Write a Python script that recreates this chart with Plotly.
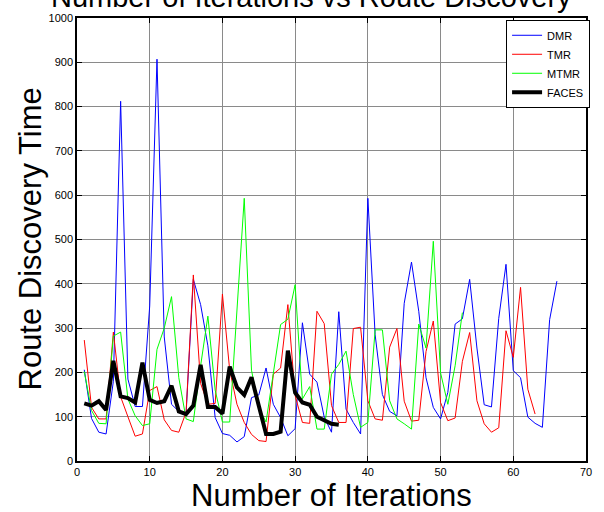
import plotly.graph_objects as go

dmr = [206, 96, 65, 61, 180, 812, 185, 123, 123, 350, 907, 280, 128, 112, 106, 410,
       353, 260, 98, 62, 58, 43, 55, 143, 149, 210, 128, 98, 57, 73, 312, 196, 178,
       99, 65, 337, 117, 87, 61, 593, 285, 150, 112, 102, 356, 449, 338, 188, 121,
       95, 155, 309, 321, 410, 255, 127, 122, 322, 444, 204, 188, 99, 85, 76, 319, 406]
tmr = [273, 121, 95, 95, 291, 145, 100, 56, 61, 159, 168, 93, 69, 65, 110, 420,
       175, 128, 130, 377, 205, 128, 87, 60, 46, 44, 196, 210, 353, 148, 87, 85,
       338, 310, 125, 87, 87, 299, 302, 136, 95, 92, 257, 299, 135, 90, 92, 247,
       316, 132, 91, 97, 225, 290, 136, 84, 65, 75, 294, 234, 392, 162, 106]
mtmr = [202, 114, 85, 84, 282, 291, 140, 102, 80, 84, 252, 300, 371, 188, 95, 89,
        215, 327, 160, 88, 88, 330, 593, 205, 120, 88, 200, 308, 320, 398, 140, 168,
        72, 72, 196, 218, 248, 150, 76, 87, 296, 296, 136, 95, 84, 72, 309, 255,
        496, 199, 128, 215, 335]
faces = [130, 125, 135, 115, 226, 146, 142, 132, 222, 138, 131, 135, 170, 112, 106,
         125, 217, 122, 122, 107, 213, 166, 149, 189, 125, 61, 61, 66, 249, 154, 132,
         127, 100, 93, 84, 82]

series = [("DMR", dmr, "#0000ff", 1), ("TMR", tmr, "#ff0000", 1),
          ("MTMR", mtmr, "#00ff00", 1), ("FACES", faces, "#000000", 4)]

x_ticks = list(range(0, 71, 10))
y_ticks = list(range(0, 1001, 100))

fig = go.Figure()
for name, vals, color, w in series:
    fig.add_trace(go.Scatter(x=list(range(1, len(vals) + 1)), y=vals, mode="lines",
                             name=name, line=dict(color=color, width=w)))

FONT = "Liberation Sans, Arial, sans-serif"
axis_common = dict(showline=True, linecolor="black", linewidth=1.5, mirror="ticks",
                   ticks="inside", ticklen=5, tickcolor="black", showgrid=True,
                   gridcolor="#8a8a8a", gridwidth=1, zeroline=False,
                   tickfont=dict(family=FONT, size=11, color="black"))

fig.update_layout(
    width=604, height=512,
    margin=dict(l=77, r=14, t=16, b=51),
    paper_bgcolor="white", plot_bgcolor="white",
    font=dict(family=FONT, color="black"),
    xaxis=dict(range=[0, 70], tickvals=x_ticks, **axis_common),
    yaxis=dict(range=[0, 1000], tickvals=y_ticks, **axis_common),
    showlegend=True,
    legend=dict(x=1.008, y=0.996, xanchor="right", yanchor="top",
                bordercolor="black", borderwidth=1, bgcolor="white",
                font=dict(family=FONT, size=11, color="black"),
                itemwidth=30, tracegroupgap=0),
    annotations=[
        dict(text="Number of Iterations", xref="paper", yref="paper", x=0.5, y=0,
             yshift=-34, yanchor="middle", showarrow=False,
             font=dict(family=FONT, size=31, color="black")),
        dict(text="Route Discovery Time", xref="paper", yref="paper", x=0, y=0.5,
             xshift=-47, xanchor="center", textangle=-90, showarrow=False,
             font=dict(family=FONT, size=31, color="black")),
        dict(text="Number of Iterations vs Route Discovery", xref="paper", yref="paper",
             x=0.46, y=1, yshift=3, yanchor="bottom", showarrow=False,
             font=dict(family=FONT, size=29, color="black")),
    ],
)

fig.write_html("out.html", config={"displayModeBar": False},
               post_script="document.body.style.margin='0';")
